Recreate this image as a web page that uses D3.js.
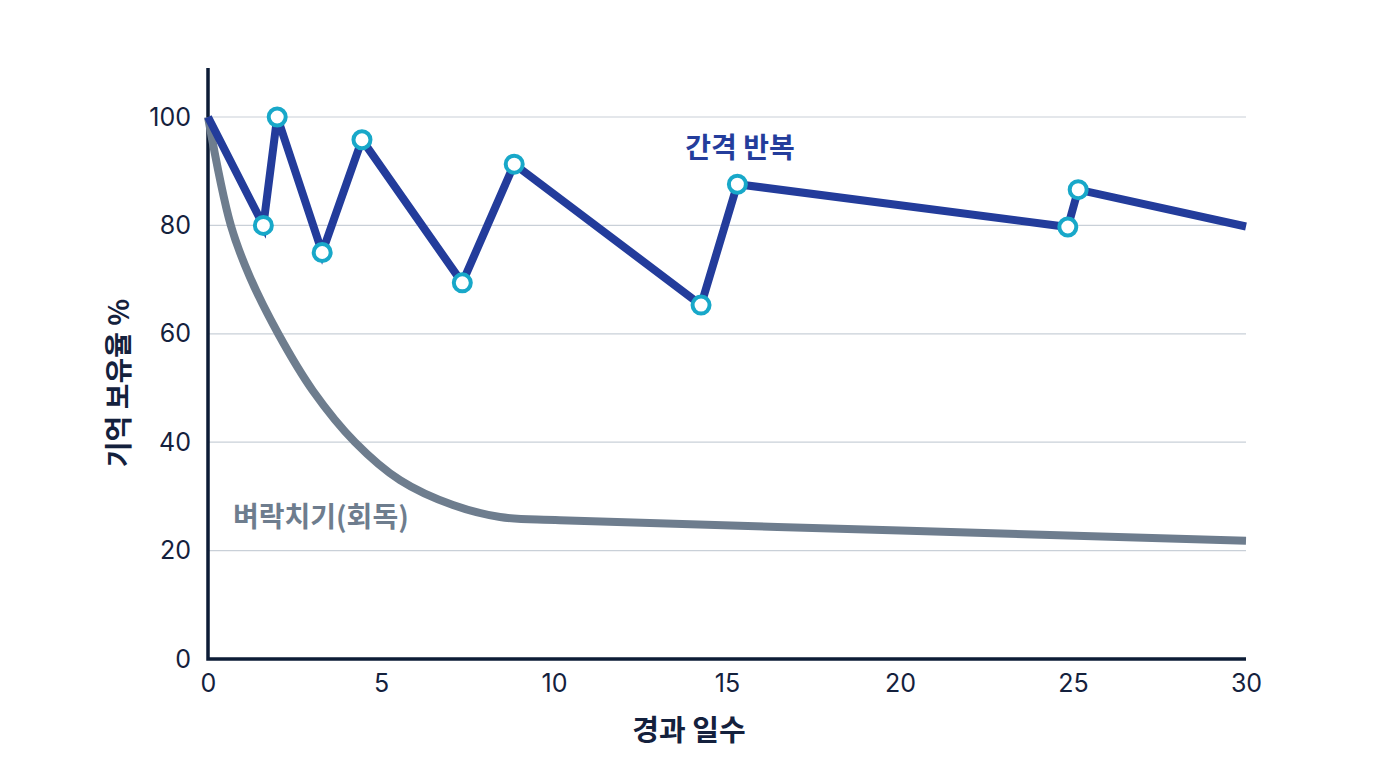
<!DOCTYPE html>
<html>
<head>
<meta charset="utf-8">
<script src="https://cdn.jsdelivr.net/npm/d3@7"></script>
<style>
  body { margin: 0; background: #fff; }
  svg { display: block; }
</style>
</head>
<body>
<svg width="1376" height="768"></svg>
<script>
// data
var spacedDays   = [0, 1.6, 2.0, 3.3, 4.45, 7.35, 8.85, 14.25, 15.3, 24.85, 25.15, 30];
var spacedValues = [100, 80, 100, 75, 95.8, 69.4, 91.3, 65.3, 87.6, 79.7, 86.6, 79.8];
var reviewIdx    = [1, 2, 3, 4, 5, 6, 7, 8, 9, 10];

var crammDays   = [0, 0.66, 1.21, 2.03, 3.03, 4.25, 5.55, 7.08, 8.44, 10.17, 20, 30];
var crammValues = [100, 80, 70.5, 60, 49.5, 40, 33, 28.4, 26.2, 25.6, 23.7, 21.8];

var xTicks = [0, 5, 10, 15, 20, 25, 30];
var yTicks = [0, 20, 40, 60, 80, 100];

var svg = d3.select("svg"),
    kr = "'Noto Sans CJK KR', 'Noto Sans', sans-serif",
    num = "Inter, 'Noto Sans', sans-serif";

var x = d3.scaleLinear().domain([0, 30]).range([208, 1246]),
    y = d3.scaleLinear().domain([0, 100]).range([659, 117]);

/*--------------------------- grid ---------------------------*/
svg.append("g").selectAll("line")
    .data(yTicks.filter(d => d > 0))
    .enter().append("line")
    .attr("x1", x(0)).attr("x2", x(30))
    .attr("y1", d => y(d)).attr("y2", d => y(d))
    .attr("stroke", "#c9d0d8").attr("stroke-width", 1.2);

/*--------------------------- axes ---------------------------*/
var xAxis = svg.append("g")
    .attr("transform", "translate(0," + y(0) + ")")
    .call(d3.axisBottom(x).tickValues(xTicks).tickSize(0).tickPadding(15));
var yAxis = svg.append("g")
    .attr("transform", "translate(" + x(0) + ",0)")
    .call(d3.axisLeft(y).tickValues(yTicks).tickSize(0).tickPadding(17));

[xAxis, yAxis].forEach(function(g) {
    g.select(".domain").remove();
    g.selectAll("text")
        .attr("fill", "#14213d")
        .style("font-family", num)
        .style("font-size", "25px");
});

svg.append("path")
    .attr("d", "M" + x(0) + "," + (y(100) - 49) + "V" + y(0) + "H" + x(30))
    .attr("fill", "none")
    .attr("stroke", "#0c1c36")
    .attr("stroke-width", 3.5);

svg.append("text")
    .attr("x", 689).attr("y", 741)
    .attr("text-anchor", "middle")
    .attr("fill", "#14213d")
    .style("font-family", kr).style("font-size", "29px").style("font-weight", 700)
    .text("경과 일수");

svg.append("text")
    .attr("transform", "translate(129,383) rotate(-90)")
    .attr("text-anchor", "middle")
    .attr("fill", "#14213d")
    .style("font-family", kr).style("font-size", "28px").style("font-weight", 700)
    .text("기억 보유율 %");

/*--------------------------- lines ---------------------------*/
var cramm = d3.line()
    .x(d => x(d[0])).y(d => y(d[1]))
    .curve(d3.curveCatmullRom.alpha(0.5));

svg.append("path")
    .datum(d3.zip(crammDays, crammValues))
    .attr("d", cramm)
    .attr("fill", "none")
    .attr("stroke", "#6e7d8e")
    .attr("stroke-width", 8);

var spaced = d3.line().x(d => x(d[0])).y(d => y(d[1]));

svg.append("path")
    .datum(d3.zip(spacedDays, spacedValues))
    .attr("d", spaced)
    .attr("fill", "none")
    .attr("stroke", "#233c9b")
    .attr("stroke-width", 8)
    .attr("stroke-linejoin", "miter");

svg.append("g").selectAll("circle")
    .data(reviewIdx)
    .enter().append("circle")
    .attr("cx", i => x(spacedDays[i]))
    .attr("cy", i => y(spacedValues[i]))
    .attr("r", 8.5)
    .attr("fill", "#fff")
    .attr("stroke", "#18a8c9")
    .attr("stroke-width", 4);

/*--------------------------- labels ---------------------------*/
svg.append("text")
    .attr("x", 740).attr("y", 158)
    .attr("text-anchor", "middle")
    .attr("fill", "#243d9c")
    .style("font-family", kr).style("font-size", "28px").style("font-weight", 700)
    .text("간격 반복");

svg.append("text")
    .attr("x", 233).attr("y", 527)
    .attr("fill", "#6e7d8e")
    .style("font-family", kr).style("font-size", "28px").style("font-weight", 700)
    .text("벼락치기(회독)");
</script>
</body>
</html>
